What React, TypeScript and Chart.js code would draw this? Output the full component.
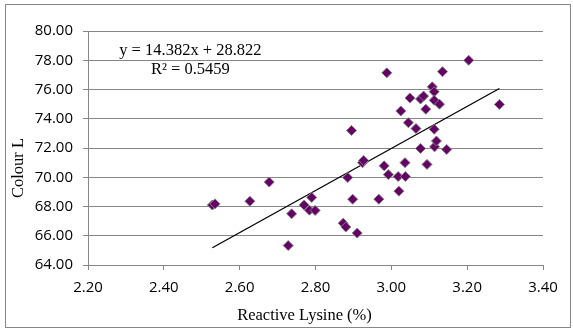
import React, { useEffect, useRef } from "react";
import { Chart, registerables } from "chart.js";

Chart.register(...registerables);

// Reactive lysine (%) values
const lysine: number[] = [
  2.528, 2.535, 2.627, 2.678, 2.728, 2.737, 2.770, 2.784, 2.790, 2.799,
  2.873, 2.880, 2.885, 2.895, 2.898, 2.910, 2.924, 2.927, 2.967, 2.981,
  2.988, 2.992, 3.018, 3.020, 3.025, 3.036, 3.037, 3.045, 3.049, 3.065,
  3.077, 3.077, 3.085, 3.091, 3.094, 3.108, 3.113, 3.113, 3.113, 3.114,
  3.119, 3.127, 3.135, 3.146, 3.204, 3.285,
];

// Colour L values
const colourL: number[] = [
  68.10, 68.18, 68.36, 69.67, 65.33, 67.50, 68.10, 67.75, 68.62, 67.73,
  66.86, 66.60, 69.98, 73.20, 68.50, 66.18, 71.00, 71.15, 68.50, 70.78,
  77.14, 70.18, 70.05, 69.05, 74.53, 71.00, 70.05, 73.73, 75.42, 73.33,
  75.35, 71.97, 75.55, 74.65, 70.88, 76.18, 75.85, 75.26, 73.28, 72.08,
  72.48, 75.00, 77.22, 71.90, 78.00, 74.98,
];

const slope = 14.382;
const intercept = 28.822;
const rSquared = 0.5459;

const xTitle = "Reactive Lysine (%)";
const yTitle = "Colour L";
const equationText = `y = ${slope}x + ${intercept}`;
const r2Text = `R² = ${rSquared}`;

export default function App() {
  const ref = useRef<HTMLCanvasElement | null>(null);

  useEffect(() => {
    if (!ref.current) return;
    const points = lysine.map((x, i) => ({ x, y: colourL[i] }));
    const xMin = Math.min(...lysine);
    const xMax = Math.max(...lysine);
    const trend = [
      { x: xMin, y: slope * xMin + intercept },
      { x: xMax, y: slope * xMax + intercept },
    ];

    const textPlugin = {
      id: "textPlugin",
      afterDraw(chart: any) {
        const ctx = chart.ctx;
        const xs = chart.scales.x;
        const ys = chart.scales.y;
        const area = chart.chartArea;
        ctx.save();
        ctx.fillStyle = "#000";
        ctx.font = '16.5px "Liberation Serif", "Times New Roman", serif';
        ctx.textAlign = "center";
        ctx.textBaseline = "middle";
        const ex = xs.getPixelForValue(2.47);
        ctx.fillText(equationText, ex, ys.getPixelForValue(78.66));
        ctx.fillText(r2Text, ex, ys.getPixelForValue(77.36));
        // axis titles
        ctx.fillText(xTitle, (area.left + area.right) / 2 - 11, 316);
        ctx.translate(19, (area.top + area.bottom) / 2 + 20);
        ctx.rotate(-Math.PI / 2);
        ctx.fillText(yTitle, 0, 0);
        ctx.restore();
      },
    };

    const tickFont = { family: '"Open Sans", sans-serif', size: 15 };

    const chart = new Chart(ref.current, {
      type: "scatter",
      data: {
        datasets: [
          {
            type: "scatter",
            data: points,
            pointStyle: "rectRot",
            pointRadius: 5,
            pointHoverRadius: 5,
            backgroundColor: "#660066",
            borderColor: "#7f7f7f",
            borderWidth: 1,
            order: 1,
          },
          {
            type: "line",
            data: trend,
            borderColor: "#000000",
            borderWidth: 1.3,
            pointRadius: 0,
            fill: false,
            order: 2,
          } as any,
        ],
      },
      options: {
        animation: false,
        responsive: false,
        maintainAspectRatio: false,
        layout: { padding: { top: 31, right: 30, left: 0, bottom: 0 } },
        plugins: { legend: { display: false }, tooltip: { enabled: false } },
        scales: {
          x: {
            type: "linear",
            min: 2.2,
            max: 3.4,
            ticks: {
              stepSize: 0.2,
              font: tickFont,
              color: "#000",
              padding: 9,
              maxRotation: 0,
              callback: (v: any) => Number(v).toFixed(2),
            },
            grid: {
              drawOnChartArea: false,
              drawTicks: true,
              tickLength: 5,
              color: "#868686",
            },
            border: { display: true, color: "#868686", width: 1 },
            afterFit: (s: any) => {
              s.height = 66;
            },
          },
          y: {
            type: "linear",
            min: 64,
            max: 80,
            ticks: {
              stepSize: 2,
              font: tickFont,
              color: "#000",
              padding: 10,
              callback: (v: any) => Number(v).toFixed(2),
            },
            grid: {
              drawOnChartArea: true,
              drawTicks: true,
              tickLength: 5,
              color: "#868686",
            },
            border: { display: true, color: "#868686", width: 1 },
            afterFit: (s: any) => {
              s.width = 88;
            },
          },
        },
      },
      plugins: [textPlugin],
    });
    return () => chart.destroy();
  }, []);

  return (
    <div
      style={{
        position: "fixed",
        left: 0,
        top: 0,
        width: 573,
        height: 331,
        background: "#fff",
      }}
    >
      <div
        style={{
          position: "absolute",
          left: 5,
          top: 4,
          width: 566,
          height: 324,
          border: "1px solid #868686",
          boxSizing: "border-box",
        }}
      />
      <canvas
        ref={ref}
        width={573}
        height={331}
        style={{ position: "absolute", left: 0, top: 0, width: 573, height: 331 }}
      />
    </div>
  );
}
